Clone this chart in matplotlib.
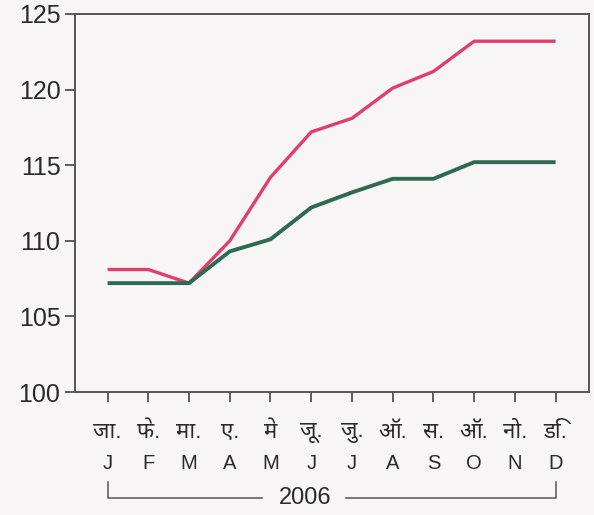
import matplotlib
matplotlib.use("Agg")
import matplotlib.pyplot as plt

months_en = ["J", "F", "M", "A", "M", "J", "J", "A", "S", "O", "N", "D"]
months_hi = ["जा.", "फे.", "मा.", "ए.", "मे", "जू.", "जु.", "ऑ.", "स.", "ऑ.", "नो.", "डि."]
pink_values = [108.1, 108.1, 107.2, 110.0, 114.2, 117.2, 118.1, 120.1, 121.2, 123.2, 123.2, 123.2]
green_values = [107.2, 107.2, 107.2, 109.3, 110.1, 112.2, 113.2, 114.1, 114.1, 115.2, 115.2, 115.2]
year_label = "2006"
y_ticks = [100, 105, 110, 115, 120, 125]

plt.rcParams['font.family'] = ['Liberation Sans', 'Noto Sans', 'Noto Sans Devanagari', 'Lohit Devanagari', 'DejaVu Sans']

bg = "#f8f5f7"
fig = plt.figure(figsize=(5.94, 5.15), dpi=100)
fig.patch.set_facecolor(bg)
ax = fig.add_axes([75/594, 1-392/515, (589-75)/594, (392-14)/515])
ax.set_facecolor(bg)

x = list(range(12))
ax.plot(x, pink_values, color="#e03f6c", lw=2.4, solid_capstyle="butt")
ax.plot(x, green_values, color="#2d6a50", lw=2.8, solid_capstyle="butt")

ax.set_xlim(-0.8, 11.82)
ax.set_ylim(100, 125)
ax.set_yticks(y_ticks)
ax.set_yticklabels([str(v) for v in y_ticks], fontsize=18, color="#2a2a2a")
ax.set_xticks(x)
ax.set_xticklabels([])
ax.tick_params(axis="both", direction="out", length=7.5, width=1.2, color="#444444")
ax.tick_params(axis="y", pad=3)
for s in ax.spines.values():
    s.set_color("#555555")
    s.set_linewidth(1.4)

tr = ax.get_xaxis_transform()
for i in x:
    ax.text(i, -0.107, months_hi[i], transform=tr, ha="center", va="center",
            fontsize=16, color="#2a2a2a")
    ax.text(i, -0.188, months_en[i], transform=tr, ha="center", va="center",
            fontsize=14.5, color="#2a2a2a")

# year bracket
yb = -0.280
ax.text(4.85, yb, year_label, transform=tr, ha="center", va="center", fontsize=17, color="#2a2a2a")
kw = dict(transform=tr, color="#555555", lw=1.1, clip_on=False)
ax.plot([0, 0, 3.8], [yb + 0.042, yb, yb], **kw)
ax.plot([5.85, 11, 11], [yb, yb, yb + 0.042], **kw)

fig.savefig("out.png", dpi=100, facecolor=fig.get_facecolor())
